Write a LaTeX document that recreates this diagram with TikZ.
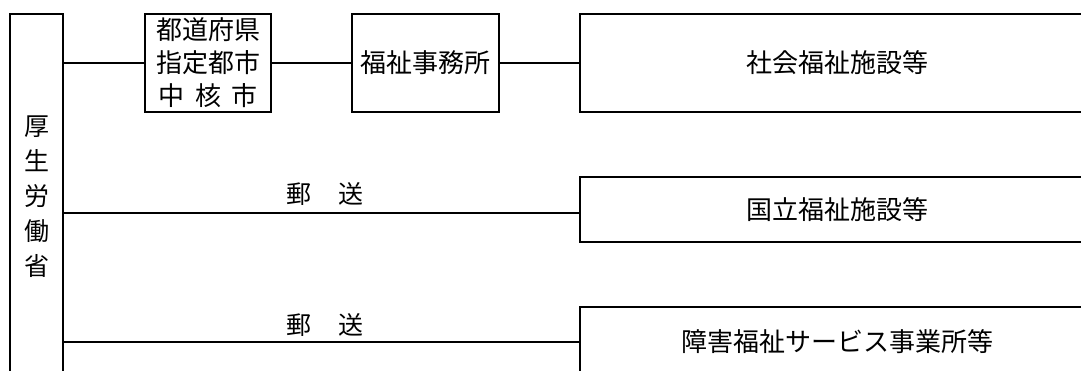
\documentclass[tikz,border=0pt]{standalone}
\usepackage{fontspec}
\newfontfamily\jp{Noto Sans CJK JP}
\tikzset{
  box/.style={draw, line width=2pt, inner sep=0pt, align=center,
    font=\jp\fontsize{26}{33}\selectfont},
  vbox/.style={box, font=\jp\fontsize{25}{35}\selectfont},
  conn/.style={line width=1.3pt},
  lbl/.style={inner sep=0pt, font=\jp\fontsize{25}{25}\selectfont}
}
\begin{document}
\begin{tikzpicture}[x=1pt,y=-1pt]
  \useasboundingbox (0,0) rectangle (1081,370);
  \clip (0,0) rectangle (1081,370);
  \fill[white] (0,0) rectangle (1081,370);
  % nodes
  \node[vbox, minimum width=53pt, minimum height=366pt] (mhlw) at (36.5,197) {厚\\生\\労\\働\\省};
  \node[box, minimum width=126pt, minimum height=98pt] (pref) at (208,63)
    {都道府県\\指定都市\\中\hspace{0.4em}核\hspace{0.4em}市};
  \node[box, minimum width=147pt, minimum height=98pt] (office) at (425.5,63) {福祉事務所};
  \node[box, minimum width=514pt, minimum height=98pt] (fac) at (837,63) {社会福祉施設等};
  \node[box, minimum width=514pt, minimum height=65pt] (natl) at (837,209.5) {国立福祉施設等};
  \node[box, minimum width=514pt, minimum height=70pt] (disab) at (837,342) {障害福祉サービス事業所等};
  % labels
  \node[lbl] (post1) at (325,194) {郵\hspace{1.1em}送};
  \node[lbl] (post2) at (325,325) {郵\hspace{1.1em}送};
  % connectors
  \draw[conn] (pref.west -| mhlw.east) -- (pref.west);
  \draw[conn] (pref.east) -- (office.west);
  \draw[conn] (office.east) -- (fac.west);
  \draw[conn] ([yshift=-3.5pt]natl.west -| mhlw.east) -- ([yshift=-3.5pt]natl.west);
  \draw[conn] (disab.west -| mhlw.east) -- (disab.west);
\end{tikzpicture}
\end{document}
